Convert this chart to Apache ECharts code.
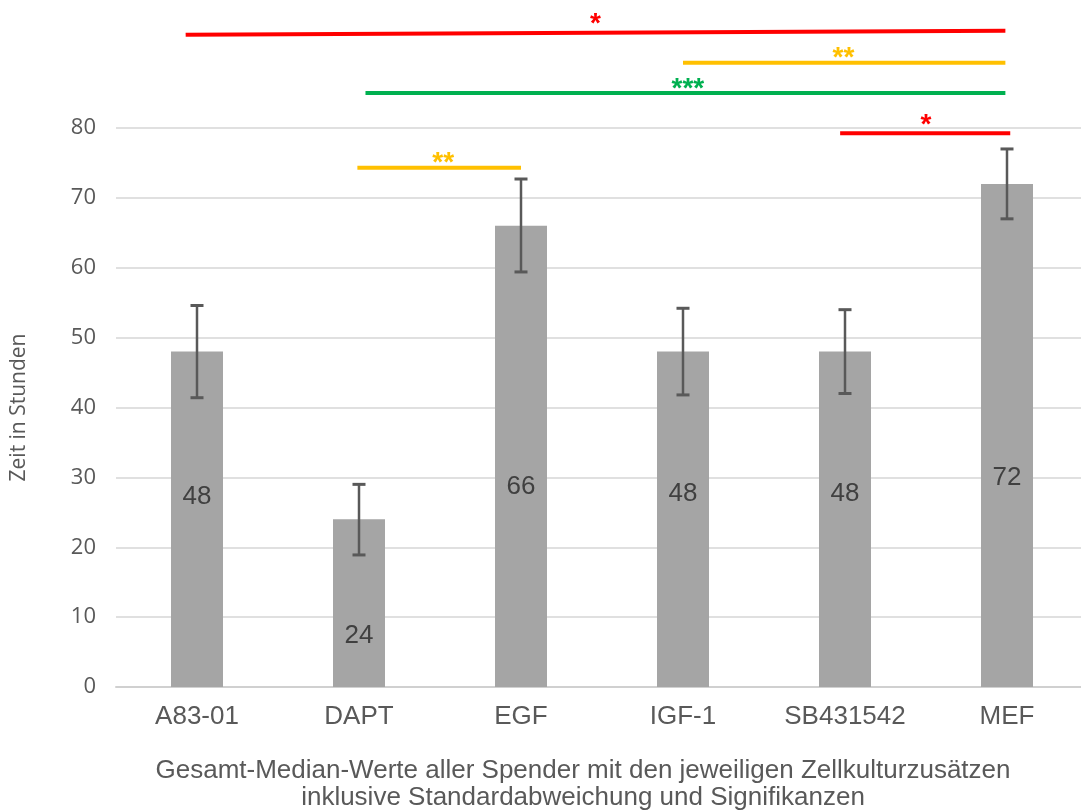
<!DOCTYPE html>
<html><head><meta charset="utf-8">
<script src="https://cdn.jsdelivr.net/npm/echarts@6/dist/echarts.min.js"></script>
<style>html,body{margin:0;padding:0;background:#fff;overflow:hidden}#c{width:1088px;height:812px}</style>
</head><body><div id="c"></div>
<script>
// ---- data ----
const categories = ['A83-01', 'DAPT', 'EGF', 'IGF-1', 'SB431542', 'MEF'];
const medians = [48, 24, 66, 48, 48, 72];
const errLow = [41.4, 18.9, 59.4, 41.8, 42.0, 67.0];
const errHigh = [54.6, 29.0, 72.7, 54.2, 54.0, 77.0];
// significance brackets (x in category index units, y in hours)
const sigFrom = [-0.07, 3.0, 1.04, 3.97, 0.99];
const sigTo = [4.99, 4.99, 4.99, 5.02, 2.0];
const sigLevelStart = [93.35, 89.35, 85.0, 79.24, 74.3];
const sigLevelEnd = [93.9, 89.35, 85.0, 79.24, 74.3];
const sigStars = ['*', '**', '***', '*', '**'];
const sigStarX = [2.46, 3.99, 3.03, 4.5, 1.52];

// ---- style ----
const sigColors = ['#ff0000', '#ffc000', '#00b050', '#ff0000', '#ffc000'];
const labelShift = [-22, 33, 30, -25, -25, 42];
const starLift = [9, 4, 4, 8, 5];

const chart = echarts.init(document.getElementById('c'), null, {renderer: 'canvas'});
const option = {
  animation: false,
  backgroundColor: '#ffffff',
  title: {
    text: 'Gesamt-Median-Werte aller Spender mit den jeweiligen Zellkulturzusätzen\ninklusive Standardabweichung und Signifikanzen',
    left: 578, top: 752, textAlign: 'center',
    textStyle: {fontSize: 26, fontWeight: 'normal', color: '#595959', lineHeight: 27, fontFamily: 'Liberation Sans'}
  },
  grid: {left: 116, top: 128, right: 0, bottom: 125, containLabel: false},
  xAxis: [{
    type: 'category', data: categories,
    axisLine: {lineStyle: {color: '#d0d0d0', width: 2}},
    axisTick: {show: false},
    axisLabel: {fontSize: 26, color: '#595959', fontFamily: 'Liberation Sans', margin: 17}
  }, {
    type: 'value', min: -0.5, max: 5.5, show: false
  }],
  yAxis: {
    type: 'value', min: 0, max: 80, interval: 10,
    axisLine: {show: false}, axisTick: {show: false},
    splitLine: {lineStyle: {color: '#d6d6d6', width: 1.5}},
    axisLabel: {fontSize: 22, color: '#595959', fontFamily: 'Open Sans', margin: 20},
    name: 'Zeit in Stunden', nameLocation: 'middle', nameGap: 86,
    nameTextStyle: {fontSize: 21, color: '#595959', fontFamily: 'Open Sans'}
  },
  series: [{
    type: 'bar', xAxisIndex: 0,
    barWidth: 52,
    itemStyle: {color: '#a5a5a5'},
    label: {show: true, position: 'inside', fontSize: 26, color: '#404040', fontFamily: 'Liberation Sans'},
    data: medians.map((v, i) => ({value: v, label: {offset: [0, labelShift[i]]}}))
  }, {
    type: 'custom', xAxisIndex: 0, clip: false, z: 5,
    encode: {x: 0, y: [1, 2]},
    data: categories.map((c, i) => [i, errLow[i], errHigh[i]]),
    renderItem: function (params, api) {
      const lo = api.coord([api.value(0), api.value(1)]);
      const hi = api.coord([api.value(0), api.value(2)]);
      const hw = 6.5;
      const st = {stroke: '#595959', lineWidth: 2.5};
      return {type: 'group', children: [
        {type: 'line', shape: {x1: lo[0], y1: lo[1], x2: hi[0], y2: hi[1]}, style: st},
        {type: 'line', shape: {x1: lo[0] - hw, y1: lo[1], x2: lo[0] + hw, y2: lo[1]}, style: {stroke: '#595959', lineWidth: 3}},
        {type: 'line', shape: {x1: hi[0] - hw, y1: hi[1], x2: hi[0] + hw, y2: hi[1]}, style: {stroke: '#595959', lineWidth: 3}}
      ]};
    }
  }, {
    type: 'custom', xAxisIndex: 1, clip: false, z: 6,
    encode: {x: 0, y: 1},
    data: sigFrom.map((v, i) => [i, sigLevelStart[i]]),
    renderItem: function (params, api) {
      const i = params.dataIndex;
      const p1 = api.coord([sigFrom[i], sigLevelStart[i]]);
      const p2 = api.coord([sigTo[i], sigLevelEnd[i]]);
      const t = (sigStarX[i] - sigFrom[i]) / (sigTo[i] - sigFrom[i]);
      const sy = sigLevelStart[i] + t * (sigLevelEnd[i] - sigLevelStart[i]);
      const s = api.coord([sigStarX[i], sy]);
      return {type: 'group', children: [
        {type: 'line', shape: {x1: p1[0], y1: p1[1], x2: p2[0], y2: p2[1]}, style: {stroke: sigColors[i], lineWidth: 4}},
        {type: 'text', x: s[0], y: s[1] - starLift[i], style: {text: sigStars[i], fill: sigColors[i], font: 'bold 28px "Liberation Sans"', align: 'center', verticalAlign: 'middle'}}
      ]};
    }
  }]
};
chart.setOption(option);
</script>
</body></html>
